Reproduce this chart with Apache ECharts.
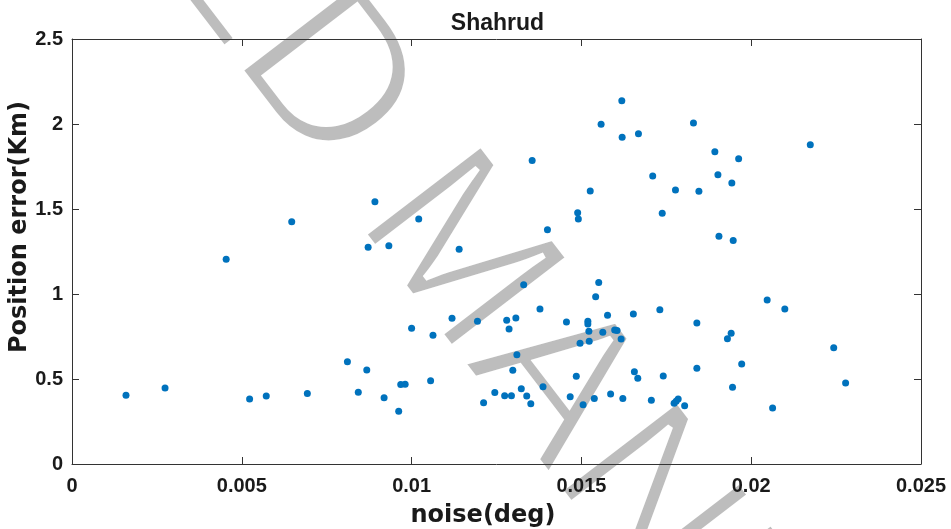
<!DOCTYPE html>
<html>
<head>
<meta charset="utf-8">
<script src="https://cdn.jsdelivr.net/npm/echarts@6/dist/echarts.min.js"></script>
<style>
html,body{margin:0;padding:0;background:#fff;}
#chart{width:951px;height:529px;}
</style>
</head>
<body>
<div id="chart"></div>
<script>
// ---- data ----
const titleText = 'Shahrud';
const xName = 'noise(deg)';
const yName = 'Position error(Km)';
const xTickLabels = ['0', '0.005', '0.01', '0.015', '0.02', '0.025'];
const yTickLabels = ['0', '0.5', '1', '1.5', '2', '2.5'];
const noiseDeg = [
  0.00647,
  0.01619, 0.01558, 0.01620, 0.01668, 0.01355, 0.01526, 0.01489, 0.01491, 0.01400,
  0.00892, 0.01021, 0.00872, 0.00933, 0.01140,
  0.01830, 0.02174, 0.01893, 0.01963, 0.01710, 0.01902, 0.01777, 0.01846, 0.01943,
  0.01738, 0.01905, 0.01947,
  0.00454, 0.00159, 0.00274, 0.00523, 0.00572, 0.00693, 0.00811, 0.00843,
  0.01330, 0.01551, 0.01542, 0.01378, 0.01577, 0.01653, 0.01000, 0.01119, 0.01194,
  0.01280, 0.01307, 0.01287, 0.01063, 0.01456, 0.01519, 0.01519, 0.01522, 0.01563,
  0.01598, 0.01605, 0.01617, 0.01496, 0.01523, 0.01310, 0.00868, 0.01298, 0.01056,
  0.00968, 0.00981, 0.00919, 0.00962, 0.01212, 0.01245, 0.01274, 0.01294, 0.01323,
  0.01339, 0.01351, 0.01387, 0.01485, 0.01467, 0.01505, 0.01538, 0.01586, 0.01622,
  0.01656, 0.01666,
  0.02047, 0.02099, 0.01731, 0.01840, 0.01941, 0.01930, 0.02243, 0.01972, 0.01741,
  0.01840, 0.01945, 0.02278, 0.01706, 0.01773, 0.01779, 0.01785, 0.01804, 0.02063
];
const positionErrKm = [
  1.425,
  2.137, 1.998, 1.922, 1.943, 1.786, 1.606, 1.478, 1.441, 1.378,
  1.543, 1.441, 1.275, 1.284, 1.263,
  2.006, 1.878, 1.837, 1.796, 1.694, 1.702, 1.612, 1.604, 1.653,
  1.475, 1.339, 1.314,
  1.204, 0.404, 0.447, 0.382, 0.400, 0.414, 0.602, 0.422,
  1.055, 1.067, 0.984, 0.912, 0.875, 0.882, 0.798, 0.857, 0.839,
  0.845, 0.859, 0.794, 0.757, 0.835, 0.839, 0.824, 0.781, 0.775,
  0.788, 0.786, 0.735, 0.710, 0.722, 0.643, 0.553, 0.551, 0.490,
  0.467, 0.469, 0.390, 0.310, 0.361, 0.420, 0.402, 0.402, 0.443,
  0.400, 0.355, 0.455, 0.516, 0.396, 0.349, 0.386, 0.412, 0.386,
  0.543, 0.504,
  0.965, 0.912, 0.908, 0.829, 0.769, 0.737, 0.684, 0.588, 0.518,
  0.563, 0.451, 0.476, 0.375, 0.357, 0.369, 0.382, 0.343, 0.329
];
const watermarkWords = ['ACCEPTED', 'MANUSCRIPT'];

// ---- chart ----
const points = noiseDeg.map((x, i) => [x, positionErrKm[i]]);
const axisColor = '#333333';
const textColor = '#1a1a1a';
const FONT = '"Liberation Sans", Arial, Helvetica, sans-serif';
const NAME_FONT = '"DejaVu Sans", "Liberation Sans", sans-serif';
const xStep = 0.005, yStep = 0.5;

function axisCommon(extra) {
  return Object.assign({
    type: 'value',
    axisLine: { show: true, onZero: false, lineStyle: { color: axisColor, width: 1 } },
    axisTick: { show: true, inside: true, length: 7, lineStyle: { color: axisColor, width: 1 } },
    splitLine: { show: false }
  }, extra);
}

const chart = echarts.init(document.getElementById('chart'), null, { renderer: 'canvas' });
const rot = -52.5 * Math.PI / 180;
const wmFont = 'normal 215px ' + FONT;
const wmFill = { font: wmFont, fill: '#bdbdbd', verticalAlign: 'middle' };
const wmThin = { font: wmFont, fill: 'none', stroke: '#ffffff', lineWidth: 6, verticalAlign: 'middle' };
const wmPos = [
  { x: 371, y: 143, align: 'right' },
  { x: 400, y: 184, align: 'left' }
];
const wmGraphics = [];
watermarkWords.forEach((w, i) => {
  wmGraphics.push({
    type: 'text', silent: true, z: -10, x: wmPos[i].x, y: wmPos[i].y, rotation: rot,
    style: Object.assign({ text: w, align: wmPos[i].align }, wmFill)
  });
  wmGraphics.push({
    type: 'text', silent: true, z: -9, x: wmPos[i].x, y: wmPos[i].y, rotation: rot,
    style: Object.assign({ text: w, align: wmPos[i].align }, wmThin)
  });
});
const nameStyle = { font: 'bold 24px ' + NAME_FONT, fill: textColor, align: 'center', verticalAlign: 'middle' };

chart.setOption({
  backgroundColor: '#ffffff',
  animation: false,
  title: {
    text: titleText, left: 492.5, textAlign: 'center', top: 7,
    textStyle: { fontFamily: FONT, fontSize: 23, fontWeight: 'bold', color: textColor }
  },
  grid: { left: 72, right: 30, top: 39, bottom: 65, containLabel: false, outerBoundsMode: 'none' },
  xAxis: [
    axisCommon({
      position: 'bottom', min: 0, max: 0.025, interval: xStep,
      axisLabel: {
        margin: 12, fontFamily: FONT, fontSize: 20, fontWeight: 'bold', color: textColor,
        formatter: v => xTickLabels[Math.round(v / xStep)]
      }
    }),
    axisCommon({ position: 'top', min: 0, max: 0.025, interval: xStep, axisLabel: { show: false } })
  ],
  yAxis: [
    axisCommon({
      position: 'left', min: 0, max: 2.5, interval: yStep,
      axisLabel: {
        margin: 9, fontFamily: FONT, fontSize: 20, fontWeight: 'bold', color: textColor,
        formatter: v => yTickLabels[Math.round(v / yStep)]
      }
    }),
    axisCommon({ position: 'right', min: 0, max: 2.5, interval: yStep, axisLabel: { show: false } })
  ],
  series: [{
    type: 'scatter',
    xAxisIndex: 0, yAxisIndex: 0,
    data: points,
    symbol: 'circle', symbolSize: 7,
    itemStyle: { color: '#0072BD', opacity: 1 },
    emphasis: { disabled: true },
    z: 5
  }],
  graphic: wmGraphics.concat([
    { type: 'text', silent: true, z: 20, x: 483, y: 516, style: Object.assign({ text: xName }, nameStyle) },
    { type: 'text', silent: true, z: 20, x: 20, y: 227, rotation: Math.PI / 2, style: Object.assign({ text: yName }, nameStyle) }
  ])
});
</script>
</body>
</html>
